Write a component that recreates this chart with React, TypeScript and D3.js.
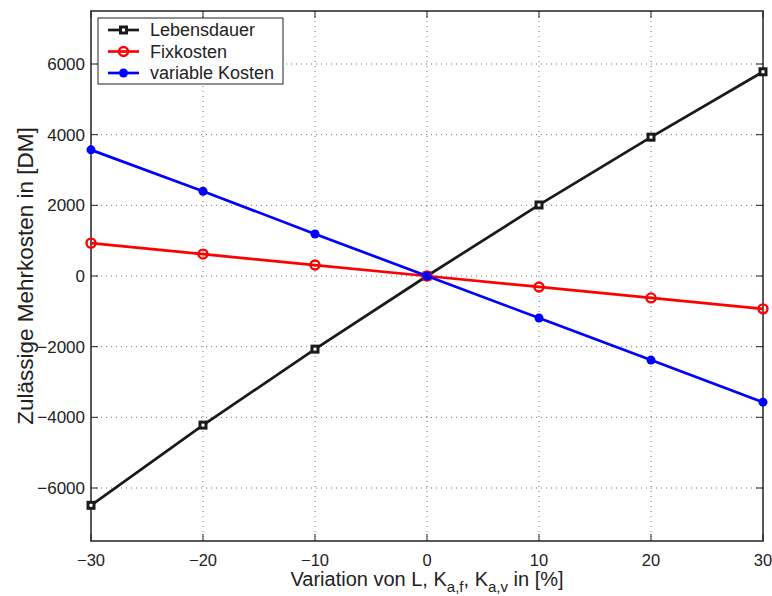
import React, { useEffect, useRef } from 'react'
import * as d3 from 'd3'

const variation = [-30, -20, -10, 0, 10, 20, 30]
const lebensdauer = [-6490, -4220, -2070, 0, 2010, 3930, 5780]
const fixkosten = [930, 620, 310, 0, -310, -620, -930]
const variableKosten = [3570, 2400, 1190, 0, -1190, -2380, -3570]
const xTicks = [-30, -20, -10, 0, 10, 20, 30]
const yTicks = [-6000, -4000, -2000, 0, 2000, 4000, 6000]

const SERIES = [
  { name: 'Lebensdauer', values: lebensdauer, color: '#1a1a1a', marker: 'square' },
  { name: 'Fixkosten', values: fixkosten, color: '#ff0000', marker: 'open' },
  { name: 'variable Kosten', values: variableKosten, color: '#0000ff', marker: 'dot' },
]

const W = 772
const H = 596
const M = { left: 91, right: 9, top: 11, bottom: 55 }
const FONT = '"Liberation Sans", Arial, Helvetica, sans-serif'

export default function App() {
  const svgRef = useRef<SVGSVGElement>(null)

  useEffect(() => {
    const el = svgRef.current
    if (!el) return
    const svg = d3.select(el)
    svg.selectAll('*').remove()

    const x = d3.scaleLinear().domain([-30, 30]).range([M.left, W - M.right])
    const y = d3.scaleLinear().domain([-7500, 7500]).range([H - M.bottom, M.top])
    const [x0, x1] = x.range()
    const [y1, y0] = y.range()

    // grid
    const grid = svg.append('g').attr('stroke', '#000').attr('stroke-width', 1)
      .attr('stroke-dasharray', '1,4').attr('opacity', 0.55)
    xTicks.slice(1, -1).forEach((t) => {
      grid.append('line').attr('x1', x(t)).attr('x2', x(t)).attr('y1', y0).attr('y2', y1)
    })
    yTicks.forEach((t) => {
      grid.append('line').attr('x1', x0).attr('x2', x1).attr('y1', y(t)).attr('y2', y(t))
    })

    // ticks inside on all sides
    const ticks = svg.append('g').attr('stroke', '#222').attr('stroke-width', 1)
    xTicks.forEach((t) => {
      ticks.append('line').attr('x1', x(t)).attr('x2', x(t)).attr('y1', y1).attr('y2', y1 - 7)
      ticks.append('line').attr('x1', x(t)).attr('x2', x(t)).attr('y1', y0).attr('y2', y0 + 7)
    })
    yTicks.forEach((t) => {
      ticks.append('line').attr('x1', x0).attr('x2', x0 + 7).attr('y1', y(t)).attr('y2', y(t))
      ticks.append('line').attr('x1', x1).attr('x2', x1 - 7).attr('y1', y(t)).attr('y2', y(t))
    })

    svg.append('rect').attr('x', x0).attr('y', y0).attr('width', x1 - x0).attr('height', y1 - y0)
      .attr('fill', 'none').attr('stroke', '#222').attr('stroke-width', 1.5)

    // tick labels
    const fmt = (v: number) => (v < 0 ? '\u2212' + Math.abs(v) : String(v))
    xTicks.forEach((t) => {
      svg.append('text').attr('x', x(t)).attr('y', y1 + 25).attr('text-anchor', 'middle')
        .attr('font-family', FONT).attr('font-size', 16.5).attr('fill', '#222').text(fmt(t))
    })
    yTicks.forEach((t) => {
      svg.append('text').attr('x', x0 - 6).attr('y', y(t) + 6).attr('text-anchor', 'end')
        .attr('font-family', FONT).attr('font-size', 17).attr('fill', '#222').text(fmt(t))
    })

    // axis titles
    const xl = svg.append('text').attr('x', (x0 + x1) / 2).attr('y', 586).attr('text-anchor', 'middle')
      .attr('font-family', FONT).attr('font-size', 20).attr('fill', '#222')
    xl.append('tspan').text('Variation von L, K')
    xl.append('tspan').attr('font-size', 15).attr('dy', 6).text('a,f')
    xl.append('tspan').attr('dy', -6).text(', K')
    xl.append('tspan').attr('font-size', 15).attr('dy', 6).text('a,v')
    xl.append('tspan').attr('dy', -6).text(' in [%]')

    svg.append('text').attr('transform', `translate(33,${(y0 + y1) / 2}) rotate(-90)`)
      .attr('text-anchor', 'middle').attr('font-family', FONT).attr('font-size', 22.5)
      .attr('fill', '#222').text('Zulässige Mehrkosten in [DM]')

    const line = d3.line<number>().x((_, i) => x(variation[i])).y((d) => y(d))

    const drawMarker = (g: any, marker: string, color: string, cx: number, cy: number) => {
      if (marker === 'square') {
        g.append('rect').attr('x', cx - 3).attr('y', cy - 3).attr('width', 6).attr('height', 6)
          .attr('fill', '#fff').attr('stroke', color).attr('stroke-width', 3)
      } else if (marker === 'open') {
        g.append('circle').attr('cx', cx).attr('cy', cy).attr('r', 4.5)
          .attr('fill', 'none').attr('stroke', color).attr('stroke-width', 2.4)
      } else {
        g.append('circle').attr('cx', cx).attr('cy', cy).attr('r', 4.5).attr('fill', color)
      }
    }

    SERIES.forEach((s) => {
      const g = svg.append('g')
      g.append('path').attr('d', line(s.values)).attr('fill', 'none')
        .attr('stroke', s.color).attr('stroke-width', 2.7)
      s.values.forEach((v, i) => drawMarker(g, s.marker, s.color, x(variation[i]), y(v)))
    })

    // legend
    const lg = svg.append('g')
    lg.append('rect').attr('x', 98).attr('y', 18).attr('width', 185).attr('height', 66)
      .attr('fill', '#fff').attr('stroke', '#222').attr('stroke-width', 1)
    SERIES.forEach((s, i) => {
      const ly = 30 + i * 21.5
      lg.append('line').attr('x1', 108).attr('x2', 139).attr('y1', ly).attr('y2', ly)
        .attr('stroke', s.color).attr('stroke-width', 2.7)
      drawMarker(lg, s.marker, s.color, 123.5, ly)
      lg.append('text').attr('x', 150).attr('y', ly + 6).attr('font-family', FONT)
        .attr('font-size', 18).attr('fill', '#222').text(s.name)
    })
  }, [])

  return <svg ref={svgRef} width={W} height={H} style={{ display: 'block', position: 'absolute', left: 0, top: 0, background: '#fff' }} />
}
